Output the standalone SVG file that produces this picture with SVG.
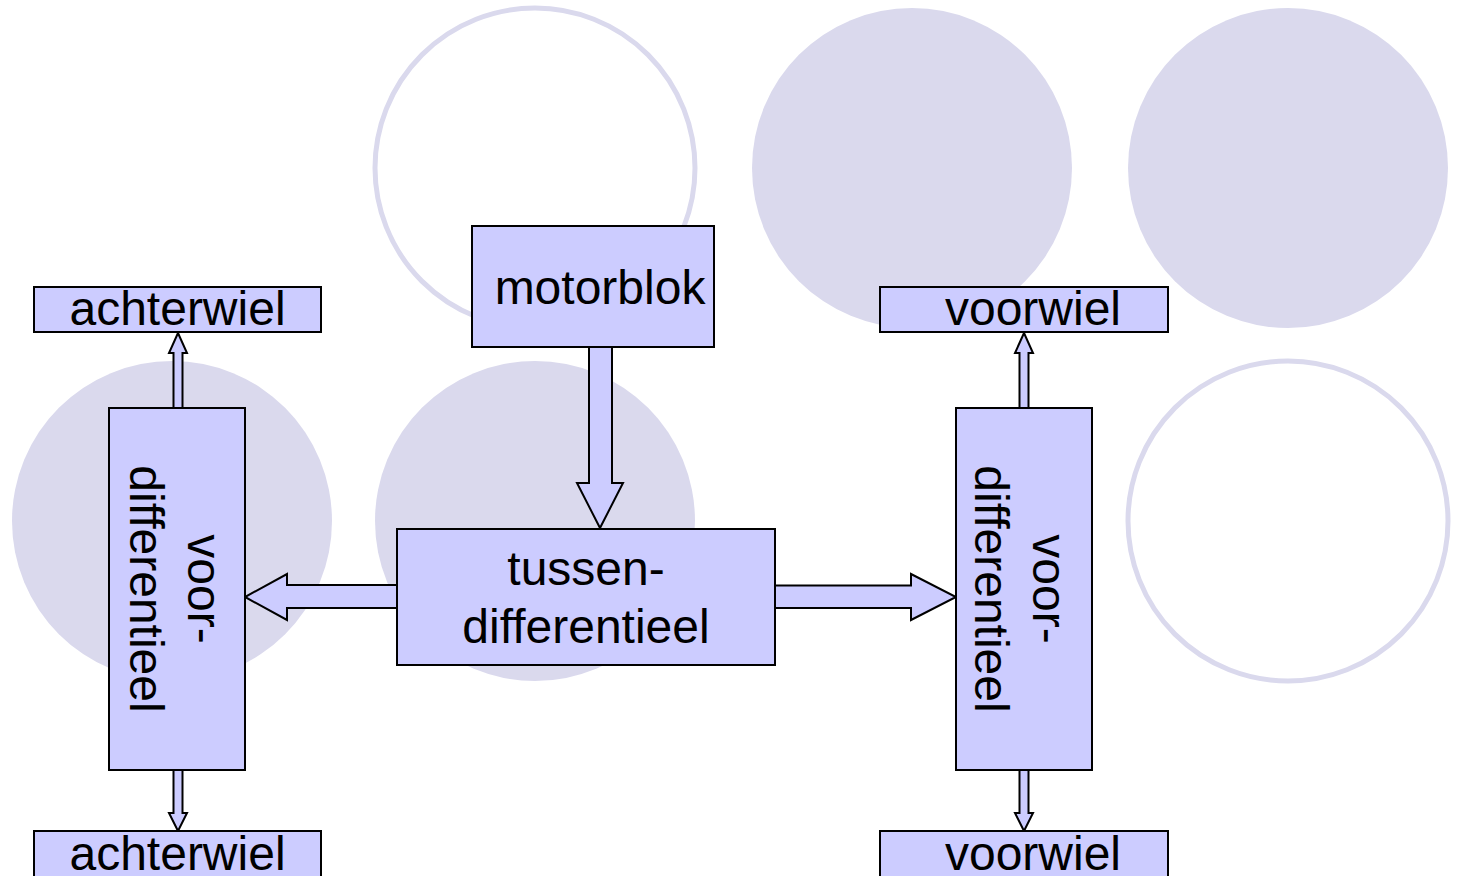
<svg xmlns="http://www.w3.org/2000/svg" width="1459" height="876" viewBox="0 0 1459 876">
<style>
.bg{fill:#dad9ed}
.ring{fill:none;stroke:#dad9ed;stroke-width:5}
.box{fill:#ccccff;stroke:#000;stroke-width:2}
.arr{fill:#ccccff;stroke:#000;stroke-width:2;stroke-linejoin:miter}
.t{font-family:"Liberation Sans",Arial,sans-serif;font-size:48px;fill:#000;text-anchor:middle}
</style>
<rect width="1459" height="876" fill="#fff"/>
<g id="background">
<circle class="ring" cx="535" cy="168" r="160"/>
<circle class="bg" cx="912" cy="168" r="160"/>
<circle class="bg" cx="1288" cy="168" r="160"/>
<circle class="bg" cx="172" cy="521" r="160"/>
<circle class="bg" cx="535" cy="521" r="160"/>
<circle class="ring" cx="1288" cy="521" r="160"/>
</g>
<g id="connectors">
<polygon class="arr" points="589,347 612,347 612,483 623,483 600,528 577,483 589,483"/>
<polygon class="arr" points="397,585 397,608 287,608 287,620 245,597 287,574 287,585"/>
<polygon class="arr" points="775,585.5 775,608 911,608 911,620 956,597 911,574 911,585.5"/>
<polygon class="arr" points="173.5,408 173.5,353 169,353 178,333 187,353 182.5,353 182.5,408"/>
<polygon class="arr" points="173.5,770 173.5,813 169,813 178,831 187,813 182.5,813 182.5,770"/>
<polygon class="arr" points="1019.5,408 1019.5,353 1015,353 1024,333 1033,353 1028.5,353 1028.5,408"/>
<polygon class="arr" points="1019.5,770 1019.5,813 1015,813 1024,831 1033,813 1028.5,813 1028.5,770"/>
</g>
<g id="motorblok">
<rect class="box" x="472" y="226" width="242" height="121"/>
<text class="t" x="600" y="304">motorblok</text>
</g>
<g id="tussendifferentieel">
<rect class="box" x="397" y="529" width="378" height="136"/>
<text class="t" x="586" y="585">tussen-</text>
<text class="t" x="586" y="643">differentieel</text>
</g>
<g id="voordifferentieel-links">
<rect class="box" x="109" y="408" width="136" height="362"/>
<g transform="translate(177,589) rotate(90)">
<text class="t" x="0" y="-10.5">voor-</text>
<text class="t" x="0" y="47">differentieel</text>
</g>
</g>
<g id="voordifferentieel-rechts">
<rect class="box" x="956" y="408" width="136" height="362"/>
<g transform="translate(1024,589) rotate(90)">
<text class="t" x="0" y="-8.6">voor-</text>
<text class="t" x="0" y="49">differentieel</text>
</g>
</g>
<g id="achterwiel-boven">
<rect class="box" x="34" y="287" width="287" height="45"/>
<text class="t" x="177.5" y="325">achterwiel</text>
</g>
<g id="achterwiel-onder">
<rect class="box" x="34" y="831" width="287" height="60"/>
<text class="t" x="177.5" y="870">achterwiel</text>
</g>
<g id="voorwiel-boven">
<rect class="box" x="880" y="287" width="288" height="45"/>
<text class="t" x="1033" y="325">voorwiel</text>
</g>
<g id="voorwiel-onder">
<rect class="box" x="880" y="831" width="288" height="60"/>
<text class="t" x="1033" y="870">voorwiel</text>
</g>
</svg>
